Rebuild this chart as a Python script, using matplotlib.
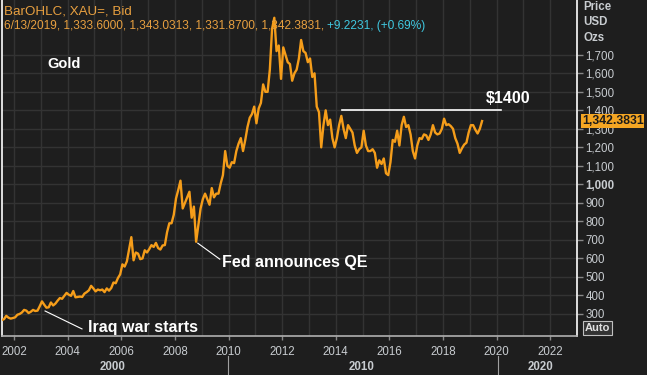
import numpy as np
import matplotlib
matplotlib.use("Agg")
import matplotlib.pyplot as plt
from matplotlib.lines import Line2D

# monthly gold price (USD/oz), Jul 2001 .. Jun 2019
gold_2001 = [267, 272, 290, 280, 275, 278]
gold_2002 = [282, 296, 300, 308, 322, 318, 305, 312, 322, 316, 318, 342]
gold_2003 = [368, 350, 334, 336, 362, 346, 356, 372, 386, 382, 398, 414]
gold_2004 = [404, 398, 424, 390, 392, 394, 392, 410, 418, 428, 452, 438]
gold_2005 = [422, 432, 428, 432, 418, 438, 426, 440, 470, 466, 494, 514]
gold_2006 = [568, 556, 584, 650, 715, 590, 632, 626, 596, 600, 644, 632]
gold_2007 = [650, 672, 662, 684, 656, 648, 670, 672, 742, 790, 790, 836]
gold_2008 = [924, 970, 1020, 870, 900, 930, 960, 820, 880, 690, 780, 870]
gold_2009 = [920, 950, 920, 890, 980, 930, 950, 950, 1005, 1050, 1180, 1100]
gold_2010 = [1090, 1120, 1115, 1180, 1220, 1250, 1180, 1240, 1310, 1360, 1380, 1420]
gold_2011 = [1330, 1410, 1440, 1540, 1500, 1500, 1620, 1840, 1900, 1720, 1750, 1570]
gold_2012 = [1740, 1700, 1660, 1650, 1560, 1600, 1620, 1680, 1780, 1720, 1710, 1660]
gold_2013 = [1680, 1580, 1600, 1420, 1390, 1200, 1320, 1400, 1320, 1350, 1250, 1200]
gold_2014 = [1250, 1320, 1370, 1300, 1250, 1320, 1300, 1280, 1210, 1170, 1190, 1200]
gold_2015 = [1290, 1210, 1180, 1180, 1190, 1170, 1090, 1130, 1110, 1140, 1060, 1050]
gold_2016 = [1120, 1240, 1230, 1290, 1210, 1320, 1365, 1310, 1320, 1270, 1180, 1140]
gold_2017 = [1210, 1250, 1245, 1270, 1265, 1240, 1270, 1320, 1280, 1270, 1275, 1300]
gold_2018 = [1355, 1320, 1325, 1315, 1300, 1250, 1220, 1170, 1195, 1215, 1225, 1280]
gold_2019 = [1320, 1320, 1295, 1275, 1300, 1342]

gold = (gold_2001 + gold_2002 + gold_2003 + gold_2004 + gold_2005 + gold_2006
        + gold_2007 + gold_2008 + gold_2009 + gold_2010 + gold_2011 + gold_2012
        + gold_2013 + gold_2014 + gold_2015 + gold_2016 + gold_2017 + gold_2018
        + gold_2019)
x_years = 2001.5 + (np.arange(len(gold)) + 0.5) / 12

price_ticks = list(range(300, 1800, 100))
year_ticks = list(range(2002, 2024, 2))
decades = ["2000", "2010", "2020"]
last_price = "1,342.3831"

BG = "#1e1e1e"
GRID = "#333333"
ORANGE = "#f59d1a"
LABEL = "#c8ccd0"
W, H = 647, 375


def px(x, y):
    # figure pixel (from top-left) -> figure fraction
    return x / W, 1 - y / H


def to_data(x, y):
    return 2001.48 + x / 26.85, 300 + (315 - y) / 0.1857


fig = plt.figure(figsize=(6.47, 3.75), dpi=100, facecolor=BG)
ax = fig.add_axes([2 / W, 1 - 336 / H, 575 / W, 336 / H])
ax.set_facecolor(BG)

ax.plot(x_years, gold, color=ORANGE, lw=1.7, zorder=3)

ax.set_xlim(2001.55, 2022.98)
ax.set_ylim(181, 1996)

ax.set_xticks(year_ticks)
ax.set_xticks(range(2002, 2024), minor=True)
ax.set_yticks(price_ticks, [f"{v:,}" for v in price_ticks])
ax.grid(True, which="both", color=GRID, lw=1)
ax.set_axisbelow(True)

ax.yaxis.tick_right()
ax.tick_params(axis="y", which="major", colors="#888888", length=4, width=1,
               labelcolor=LABEL, labelsize=8.3, pad=2)
ax.tick_params(axis="x", which="major", colors="#888888", length=3, width=1,
               labelcolor=LABEL, labelsize=8.3, pad=4)
ax.tick_params(axis="x", which="minor", length=0)
for lab in ax.get_yticklabels() + ax.get_xticklabels():
    lab.set_fontfamily("Liberation Sans")
    if lab.get_text() == "1,000":
        lab.set_fontweight("bold")

ax.spines["top"].set_visible(False)
ax.spines["left"].set_color("white")
ax.spines["right"].set_color("white")
ax.spines["bottom"].set_color("#b0b0b0")
for s in ax.spines.values():
    s.set_linewidth(1.2)

# annotations
bold = dict(color="white", fontweight="bold", fontfamily="Liberation Sans")
ax.text(*to_data(47, 64), "Gold", fontsize=10.5, va="center", ha="left", **bold)

ax.plot([to_data(342, 0)[0], to_data(502, 0)[0]], [1400, 1400], color="white", lw=1.2, zorder=4)
ax.text(*to_data(487, 99), "$1400", fontsize=11.5, va="center", ha="left", **bold)

x0, y0 = to_data(198, 244)
x1, y1 = to_data(220, 260)
ax.plot([x0, x1], [y0, y1], color="white", lw=0.8, zorder=4)
ax.text(*to_data(222, 263), "Fed announces QE", fontsize=11.5, va="center", ha="left", **bold)

x0, y0 = to_data(45, 312)
x1, y1 = to_data(82, 330)
ax.plot([x0, x1], [y0, y1], color="white", lw=0.8, zorder=4)
ax.text(*to_data(88, 329), "Iraq war starts", fontsize=11.5, va="center", ha="left", **bold)

# header
hdr = dict(fontfamily="Liberation Sans", va="center", ha="left")
fig.text(*px(4, 11), "BarOHLC, XAU=, Bid", color="#e8a040", fontsize=9.6, **hdr)
fig.text(*px(4, 26), "6/13/2019, 1,333.6000, 1,343.0313, 1,331.8700, 1,342.3831,",
         color="#e8a040", fontsize=8.6, **hdr)
fig.text(*px(327, 26), "+9.2231, (+0.69%)", color="#40c8e0", fontsize=8.6, **hdr)

# right axis header and boxes
for yy, t in [(7, "Price"), (22, "USD"), (38, "Ozs")]:
    fig.text(*px(583, yy), t, color=LABEL, fontsize=8.3, fontweight="bold",
             fontfamily="Liberation Sans", va="center", ha="left")
fig.text(*px(582, 121), last_price, color="#1a1a1a", fontsize=8.8, fontweight="bold",
         fontfamily="Liberation Sans", va="center", ha="left",
         bbox=dict(boxstyle="square,pad=0.06", facecolor="#f5a623", edgecolor="none"))
fig.text(*px(585, 328), "Auto", color="#e0e0e0", fontsize=8, fontweight="bold",
         fontfamily="Liberation Sans", va="center", ha="left",
         bbox=dict(boxstyle="square,pad=0.15", facecolor="#333333", edgecolor="#c0c0c0", lw=0.8))

# decade row
for xx, t in zip([113, 362, 540], decades):
    fig.text(*px(xx, 367), t, color=LABEL, fontsize=8.3, fontweight="bold",
             fontfamily="Liberation Sans", va="center", ha="center")
for xx in [228, 498]:
    fig.add_artist(Line2D([xx / W, xx / W], [0, 1 - 356 / H], color="#a0a0a0", lw=0.8))

fig.savefig("out.png", dpi=100, facecolor=BG)
